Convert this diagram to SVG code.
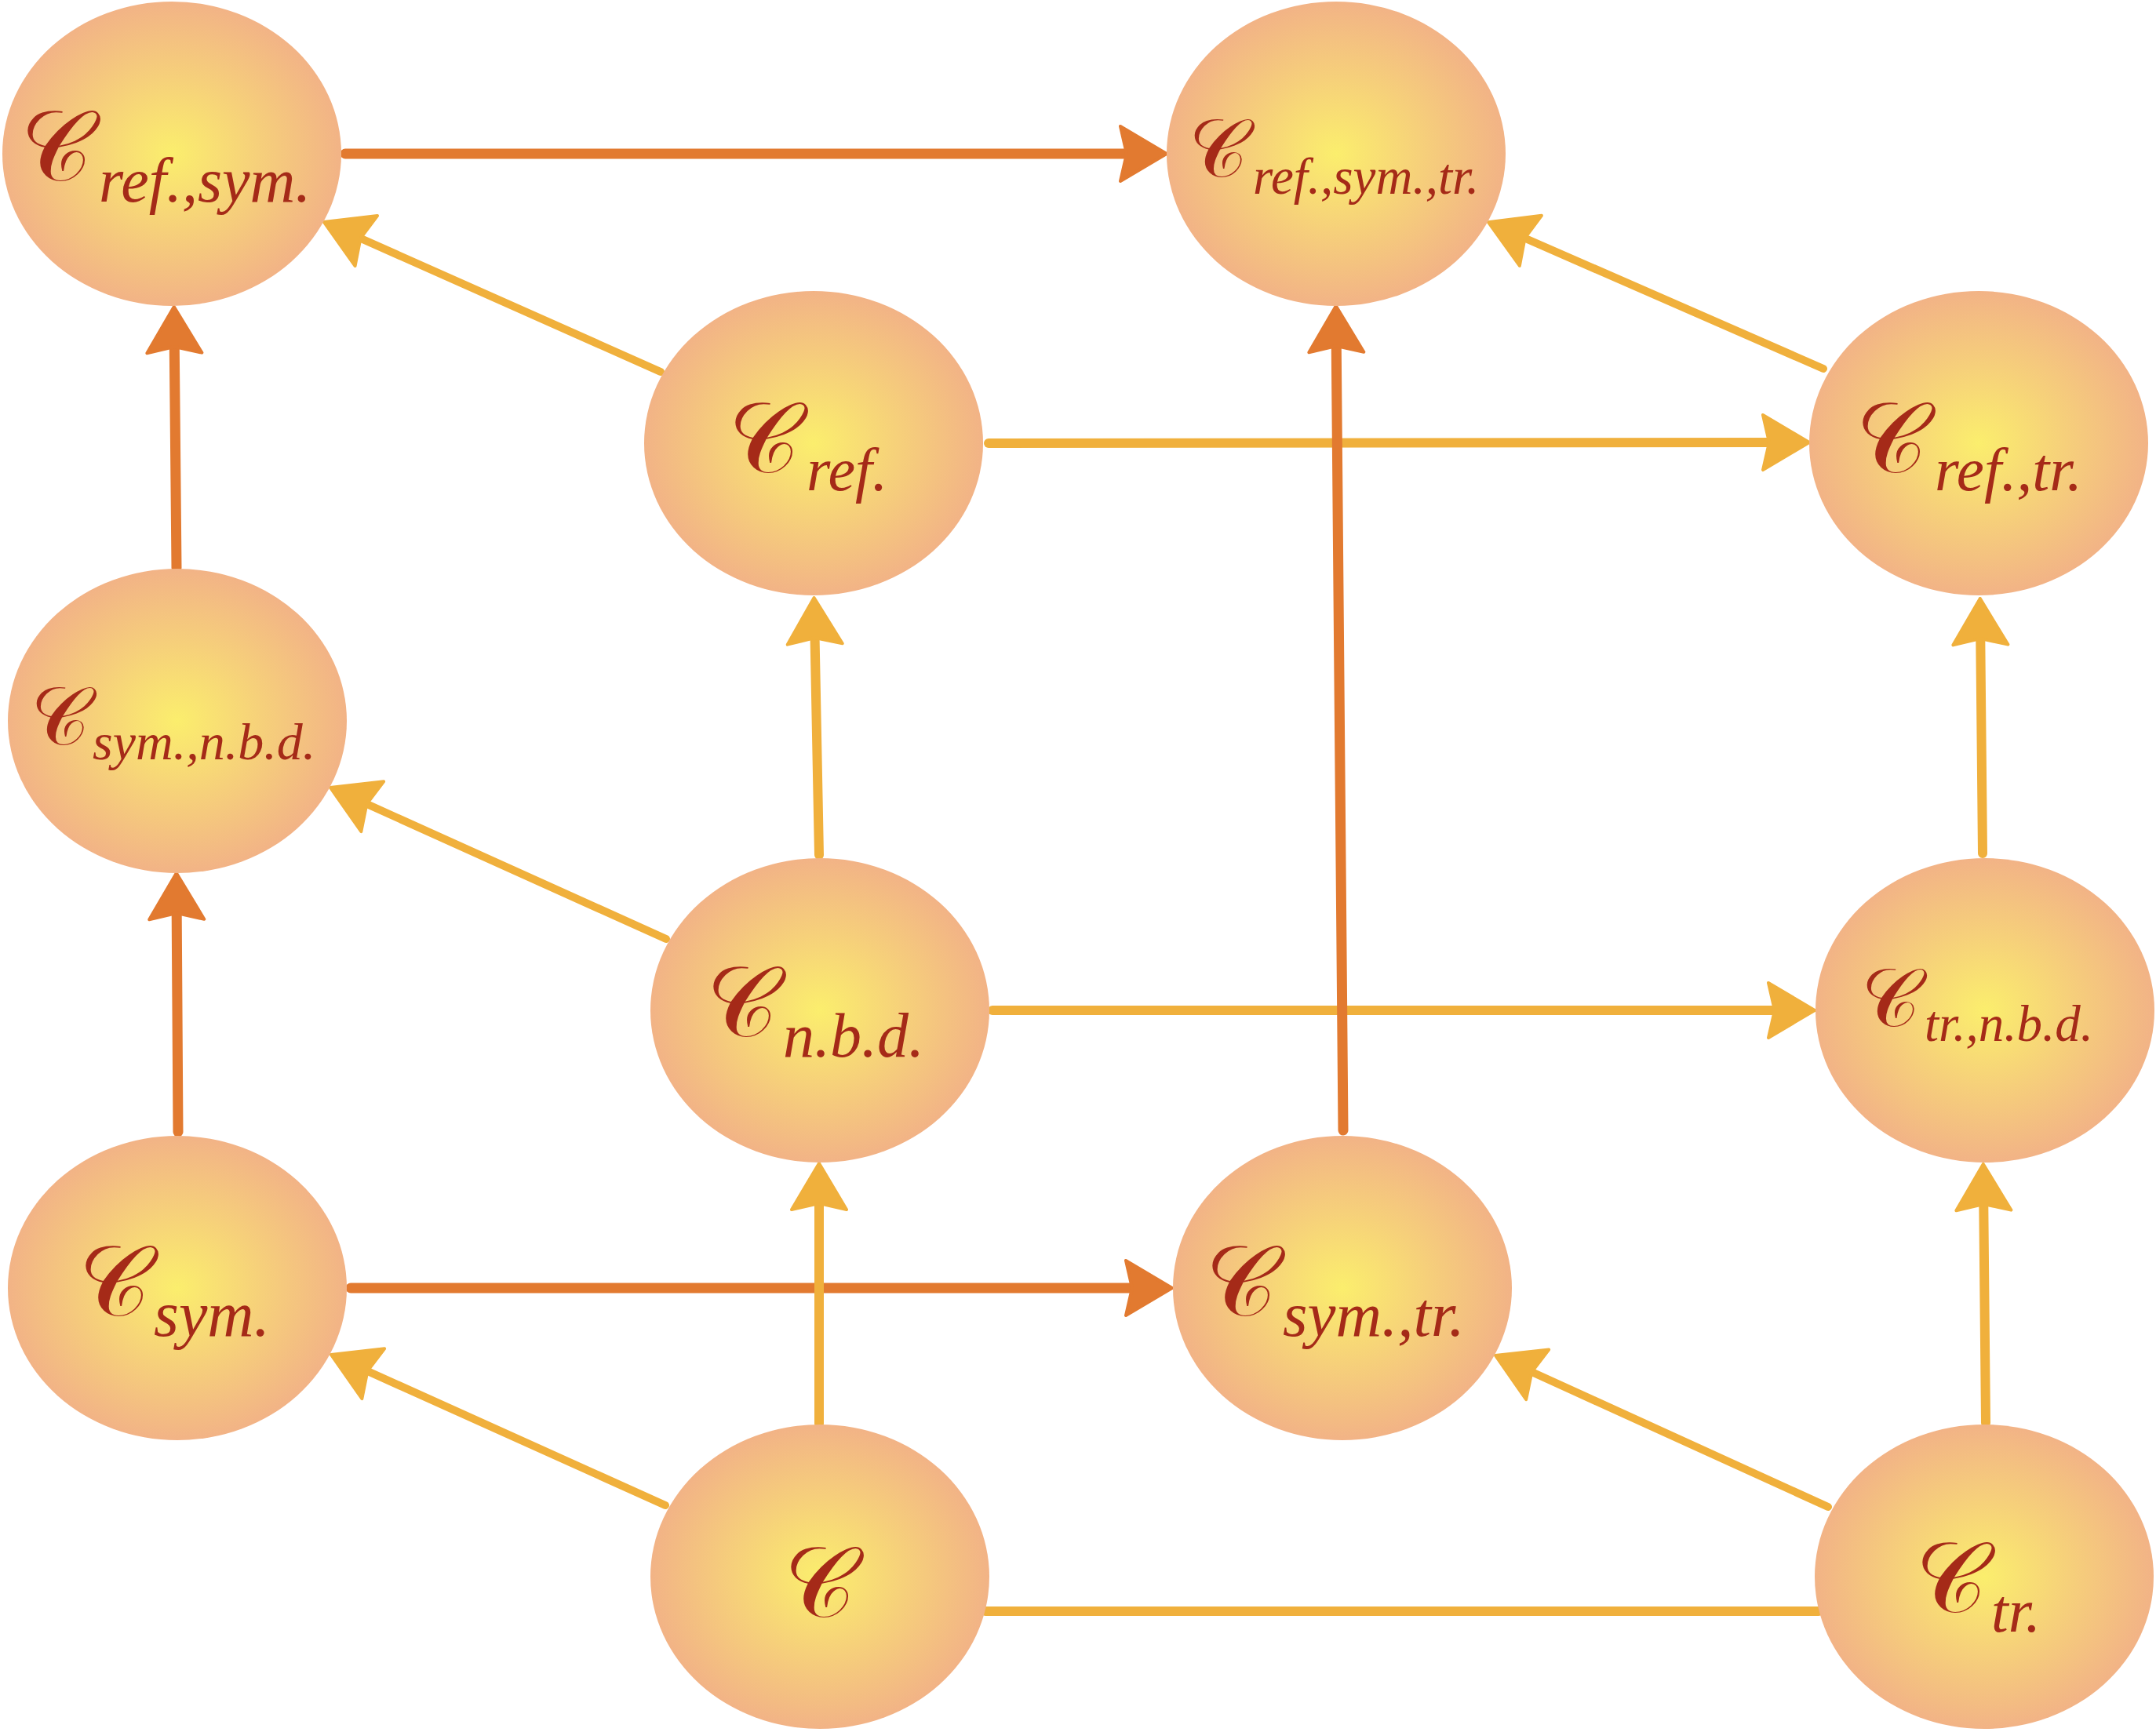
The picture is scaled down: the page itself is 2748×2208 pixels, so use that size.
<svg xmlns="http://www.w3.org/2000/svg" width="2748" height="2208" viewBox="0 0 2748 2208">
<defs>
<radialGradient id="ng" cx="50%" cy="50%" r="50%">
<stop offset="0" stop-color="#FBEE6D"/>
<stop offset="0.5" stop-color="#F6D07A"/>
<stop offset="1" stop-color="#F2B386"/>
</radialGradient>
<marker id="ad" markerUnits="userSpaceOnUse" viewBox="0 0 64 76" markerWidth="64" markerHeight="76" refX="40" refY="38" orient="auto">
<path d="M3,3 L62,38 L3,73 L11,38 Z" fill="#E27A30" stroke="#E27A30" stroke-width="4" stroke-linejoin="round"/>
</marker>
<marker id="al" markerUnits="userSpaceOnUse" viewBox="0 0 64 76" markerWidth="64" markerHeight="76" refX="40" refY="38" orient="auto">
<path d="M3,3 L62,38 L3,73 L11,38 Z" fill="#F0B03C" stroke="#F0B03C" stroke-width="4" stroke-linejoin="round"/>
</marker>
</defs>
<style>
.node ellipse{fill:url(#ng)}
.cc{font-family:"DejaVu Serif","DejaVu Sans","Liberation Serif",serif;font-size:126px;fill:#A52A18;text-anchor:middle}
.cs{font-size:104px}
.sub{font-family:"Liberation Serif","Times New Roman",serif;font-style:italic;fill:#A52A18}
.dk{fill:none;stroke:#E27A30;stroke-width:13;stroke-linecap:round}
.lt{fill:none;stroke:#F0B03C;stroke-width:12;stroke-linecap:round}
.ld{stroke-width:10}
</style>
<rect width="2748" height="2208" fill="#FFFFFF"/>
<g id="connectors">
<path class="dk" d="M447,1642 L1472,1642" marker-end="url(#ad)"/>
<path class="lt" d="M1260,565 L2284,564" marker-end="url(#al)"/>
<path class="lt" d="M1265,1288 L2291,1288" marker-end="url(#al)"/>
<path class="lt ld" d="M842,474 L433,292" marker-end="url(#al)"/>
<path class="lt ld" d="M2324,470 L1917,292" marker-end="url(#al)"/>
<path class="lt ld" d="M849,1197 L441,1013" marker-end="url(#al)"/>
<path class="lt ld" d="M848,1919 L442,1736" marker-end="url(#al)"/>
<path class="lt ld" d="M2330,1921 L1926,1737" marker-end="url(#al)"/>
<path class="lt" d="M1256,2054 L2318,2054"/>
<path class="lt" d="M1044,1090 L1038,784" marker-end="url(#al)"/>
<path class="lt" d="M2527,1088 L2524,785" marker-end="url(#al)"/>
<path class="lt" d="M1044,1815 L1044,1505" marker-end="url(#al)"/>
<path class="lt" d="M2531,1814 L2528,1506" marker-end="url(#al)"/>
<path class="dk" d="M440,196 L1465,196" marker-end="url(#ad)"/>
<path class="dk" d="M225,724 L222,413" marker-end="url(#ad)"/>
<path class="dk" d="M1712,1441 L1703,412" marker-end="url(#ad)"/>
<path class="dk" d="M227,1443 L225,1135" marker-end="url(#ad)"/>
</g>
<g id="n_refsym" class="node">
<ellipse cx="219" cy="196" rx="216" ry="194"/>
<text class="cc" x="72" y="230">𝒞</text>
<text class="sub" x="126" y="257" font-size="80">ref.,sym.</text>
</g>
<g id="n_refsymtr" class="node">
<ellipse cx="1703" cy="196" rx="216" ry="194"/>
<text class="cc cs" x="1553" y="225">𝒞</text>
<text class="sub" x="1597" y="247" font-size="65">ref.,sym.,tr.</text>
</g>
<g id="n_ref" class="node">
<ellipse cx="1037" cy="565" rx="216" ry="194"/>
<text class="cc" x="974" y="602">𝒞</text>
<text class="sub" x="1028" y="625" font-size="78">ref.</text>
</g>
<g id="n_reftr" class="node">
<ellipse cx="2522" cy="565" rx="216" ry="194"/>
<text class="cc" x="2411" y="602">𝒞</text>
<text class="sub" x="2466" y="625" font-size="79">ref.,tr.</text>
</g>
<g id="n_symnbd" class="node">
<ellipse cx="226" cy="919" rx="216" ry="194"/>
<text class="cc cs" x="77" y="949">𝒞</text>
<text class="sub" x="118" y="968" font-size="66">sym.,n.b.d.</text>
</g>
<g id="n_nbd" class="node">
<ellipse cx="1045" cy="1288" rx="216" ry="194"/>
<text class="cc" x="946" y="1321">𝒞</text>
<text class="sub" x="998" y="1347" font-size="80">n.b.d.</text>
</g>
<g id="n_trnbd" class="node">
<ellipse cx="2530" cy="1288" rx="216" ry="194"/>
<text class="cc cs" x="2410" y="1308">𝒞</text>
<text class="sub" x="2453" y="1327" font-size="65">tr.,n.b.d.</text>
</g>
<g id="n_sym" class="node">
<ellipse cx="226" cy="1642" rx="216" ry="194"/>
<text class="cc" x="146" y="1677">𝒞</text>
<text class="sub" x="196" y="1703" font-size="82">sym.</text>
</g>
<g id="n_symtr" class="node">
<ellipse cx="1711" cy="1642" rx="216" ry="194"/>
<text class="cc" x="1582" y="1677">𝒞</text>
<text class="sub" x="1635" y="1703" font-size="81">sym.,tr.</text>
</g>
<g id="n_c" class="node">
<ellipse cx="1045" cy="2010" rx="216" ry="194"/>
<text class="cc" x="1045" y="2061">𝒞</text>
</g>
<g id="n_tr" class="node">
<ellipse cx="2529" cy="2010" rx="216" ry="194"/>
<text class="cc" x="2487" y="2055">𝒞</text>
<text class="sub" x="2538" y="2080" font-size="78">tr.</text>
</g>
</svg>
